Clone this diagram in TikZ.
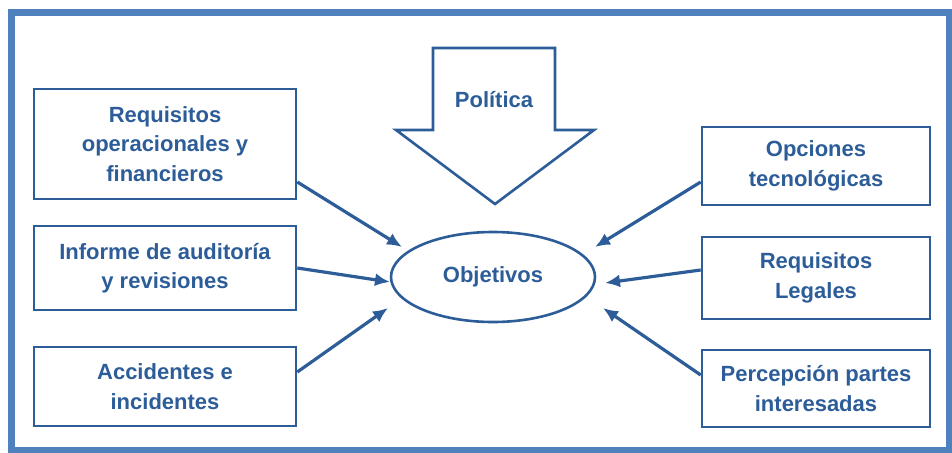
\documentclass[tikz,border=0pt]{standalone}
\usepackage{fontspec}
\setmainfont{Liberation Sans}
\usetikzlibrary{arrows.meta,calc,shapes.geometric}
\definecolor{dblue}{HTML}{2D5D98}
\definecolor{frameblue}{HTML}{4F81BD}
\begin{document}
\begin{tikzpicture}[x=1pt,y=-1pt,
  box/.style={draw=dblue,line width=2.6pt,rectangle,inner sep=0pt,align=center,
    text=dblue,font=\fontsize{22}{29.5}\selectfont\bfseries},
  conn/.style={draw=dblue,line width=3.2pt,-{Latex[length=15pt,width=13pt]}},
  lbl/.style={text=dblue,font=\fontsize{22}{29.5}\selectfont\bfseries,align=center}]
\useasboundingbox (0,0) rectangle (952,452);
\draw[frameblue,line width=7pt] (11.5,12.5) rectangle (949,450);
% Politica arrow
\draw[dblue,line width=2.6pt,line join=miter] (433,48) -- (555,48) -- (555,130) -- (594,130) -- (495,204) -- (396,130) -- (433,130) -- cycle;
\node[lbl] (pol) at (494,100) {Política};
% boxes
\node[box,minimum width=262pt,minimum height=110pt] (b1) at (165,144) {Requisitos\\operacionales y\\financieros};
\node[box,minimum width=262pt,minimum height=84pt] (b2) at (165,268) {Informe de auditoría\\y revisiones};
\node[box,minimum width=262pt,minimum height=79pt] (b3) at (165,386.5) {Accidentes e\\incidentes};
\node[box,minimum width=228pt,minimum height=78pt] (b4) at (816,166) {Opciones\\tecnológicas};
\node[box,minimum width=228pt,minimum height=82pt] (b5) at (816,278) {Requisitos\\Legales};
\node[box,minimum width=228pt,minimum height=77pt] (b6) at (816,388.5) {Percepción partes\\interesadas};
\node[draw=dblue,line width=2.6pt,ellipse,minimum width=204pt,minimum height=90pt,inner sep=0pt,
  text=dblue,font=\fontsize{22}{29.5}\selectfont\bfseries] (obj) at (493,277) {Objetivos};
% connectors
\draw[conn] ($(b1.east)+(0,38)$) -- ($(obj.center)+(-91,-30)$);
\draw[conn] (b2.east) -- ($(obj.center)+(-103,5)$);
\draw[conn] ($(b3.east)+(0,-14.5)$) -- ($(obj.center)+(-105,31)$);
\draw[conn] ($(b4.west)+(0,16)$) -- ($(obj.center)+(102,-30)$);
\draw[conn] ($(b5.west)+(0,-8)$) -- ($(obj.center)+(112,6)$);
\draw[conn] ($(b6.west)+(0,-13.5)$) -- ($(obj.center)+(110,31)$);
\end{tikzpicture}
\end{document}
